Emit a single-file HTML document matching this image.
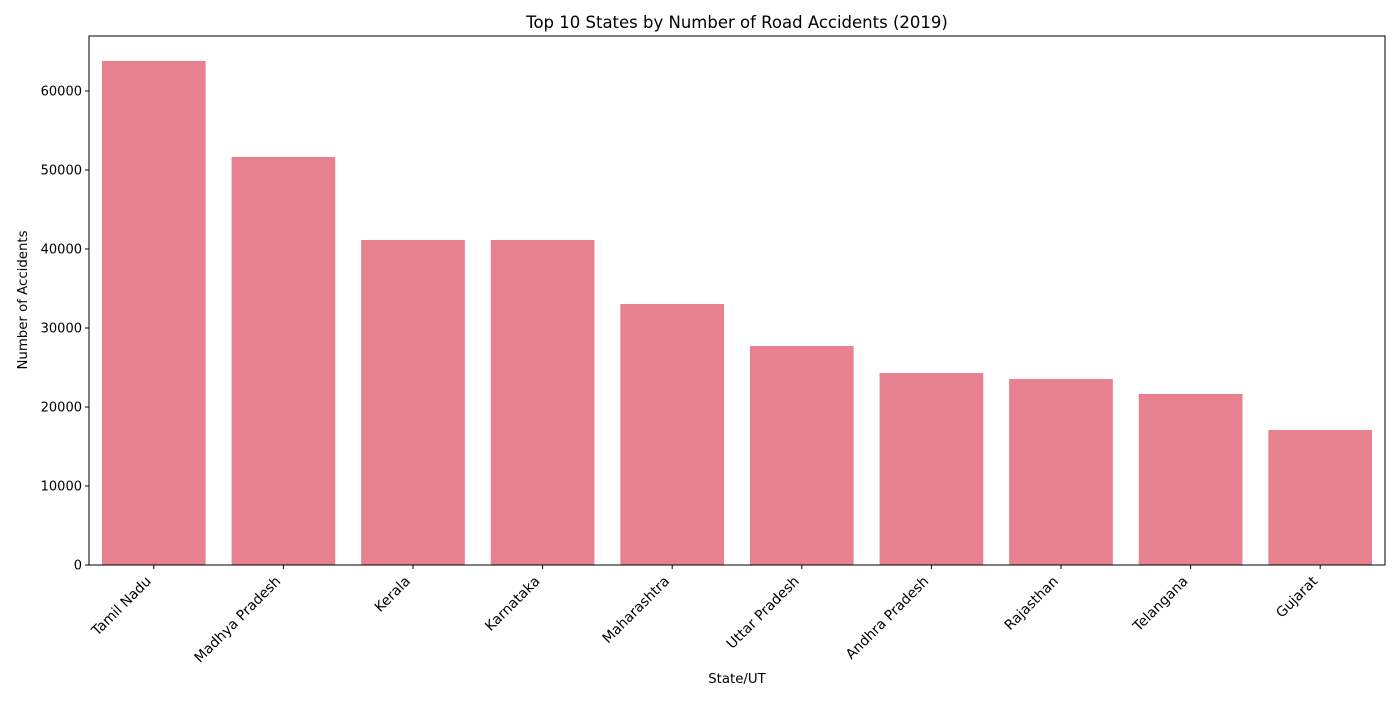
<!DOCTYPE html>
<html><head><meta charset="utf-8"><style>
body{margin:0;background:#fff;}
svg text{font-family:"DejaVu Sans","Liberation Sans",sans-serif;fill:#000;}
</style></head><body>
<svg id="chart" width="1400" height="700" xmlns="http://www.w3.org/2000/svg">
<text x="737" y="28" font-size="16.5" text-anchor="middle">Top 10 States by Number of Road Accidents (2019)</text>
<text x="737" y="683" font-size="13.3" text-anchor="middle">State/UT</text>
<text transform="translate(27,300) rotate(-90)" font-size="13.3" text-anchor="middle">Number of Accidents</text>
<g id="bars"></g><g id="axes"></g>
<rect x="89" y="36" width="1296" height="529" fill="none" stroke="#000" stroke-width="1"/>
</svg>
<script>
const categories=["Tamil Nadu","Madhya Pradesh","Kerala","Karnataka","Maharashtra","Uttar Pradesh","Andhra Pradesh","Rajasthan","Telangana","Gujarat"];
const values=[63800,51650,41140,41140,33040,27720,24300,23540,21650,17090];
const yTicks=[0,10000,20000,30000,40000,50000,60000];
const L=89,R=1385,T=36,B=565,yMax=66960;
const NS="http://www.w3.org/2000/svg";
const y=v=>B-(v/yMax)*(B-T);
const slot=(R-L)/categories.length;
const x=i=>L+slot*i+slot/2;
const bars=document.getElementById('bars'),axes=document.getElementById('axes');
function mk(t,a,p){const e=document.createElementNS(NS,t);for(const k in a)e.setAttribute(k,a[k]);p.appendChild(e);return e;}
categories.forEach((c,i)=>{
 const r=mk('rect',{x:x(i)-slot*0.4,y:y(values[i]),width:slot*0.8,height:B-y(values[i]),fill:'#e7808f'},bars);
 
 
 mk('line',{x1:x(i),x2:x(i),y1:B,y2:B+4,stroke:'#000'},axes);
 const t=mk('text',{transform:`translate(${x(i)-2},${B+17}) rotate(-45)`,'font-size':13.9,'text-anchor':'end'},axes);
 t.textContent=c;
 
 
});
yTicks.forEach(v=>{
 mk('line',{x1:L-4,x2:L,y1:y(v),y2:y(v),stroke:'#000'},axes);
 const t=mk('text',{x:L-7,y:y(v)+4.5,'font-size':13,'text-anchor':'end'},axes);
 t.textContent=v;
 
 
});
</script>
</body></html>
